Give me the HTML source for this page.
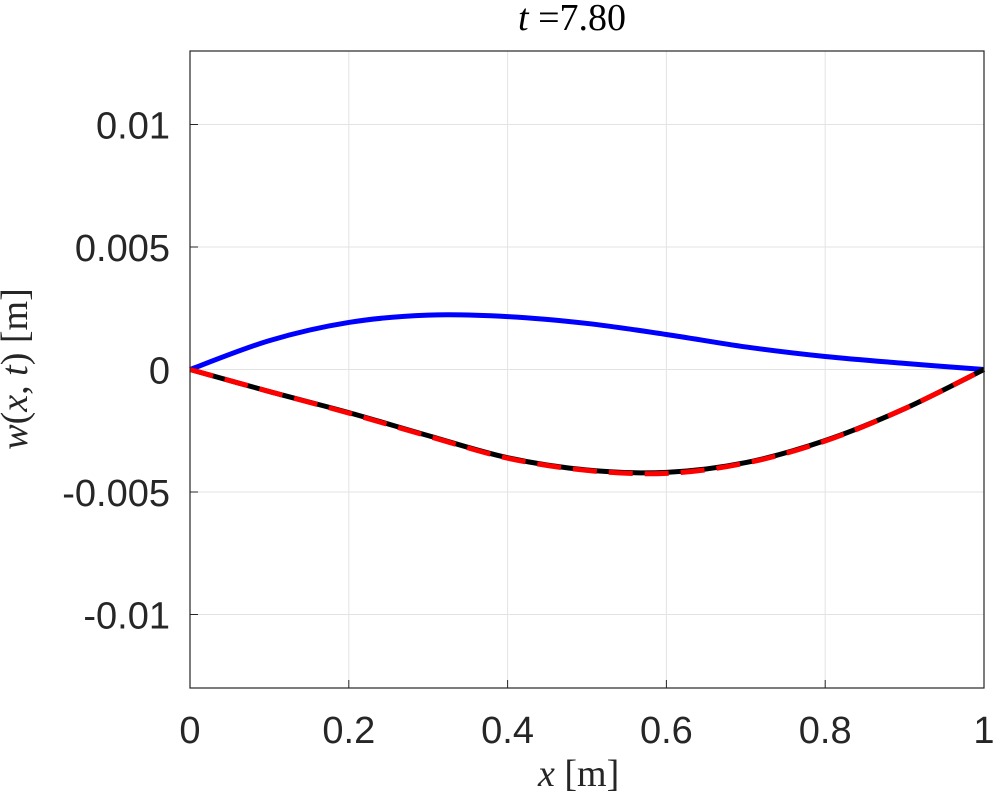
<!DOCTYPE html>
<html><head><meta charset="utf-8"><style>
body{margin:0;background:#fff}
svg{display:block}
text{font-family:"Liberation Sans",sans-serif;fill:#262626}
</style></head><body>
<svg id="c" width="997" height="804"></svg>
<script>
const xs=[0,0.1,0.2,0.3,0.4,0.5,0.6,0.7,0.8,0.9,1];
const blue=[0,0.00118,0.00192,0.00222,0.00216,0.00188,0.00143,0.00092,0.00053,0.00025,0];
const black=[0,-0.0009,-0.00176,-0.0027,-0.0036,-0.0041,-0.0042,-0.0038,-0.0029,-0.0016,0];
const red=[0,-0.0009,-0.00178,-0.00272,-0.00362,-0.00412,-0.00424,-0.00382,-0.00292,-0.0016,0];
const xticks=[0,0.2,0.4,0.6,0.8,1];
const xtickLabels=["0","0.2","0.4","0.6","0.8","1"];
const yticks=[-0.01,-0.005,0,0.005,0.01];
const ytickLabels=["-0.01","-0.005","0","0.005","0.01"];
const L=190,R=984,T=51,B=688,ymin=-0.013,ymax=0.013;
const sx=v=>L+(v)*(R-L);
const sy=v=>B-(v-ymin)/(ymax-ymin)*(B-T);
const svg=document.getElementById('c');const NS='http://www.w3.org/2000/svg';
function el(t,a,txt){const e=document.createElementNS(NS,t);for(const k in a)e.setAttribute(k,a[k]);if(txt!==undefined)e.textContent=txt;svg.appendChild(e);return e;}
let e=el('rect',{x:L,y:T,width:R-L,height:B-T,fill:'#fff'});


xticks.forEach((v,i)=>{
 let g=el('line',{x1:sx(v),x2:sx(v),y1:T,y2:B,stroke:'#e3e3e3','stroke-width':1});
 
 
 let t=el('text',{x:sx(v),y:B+55,'text-anchor':'middle','font-size':38},xtickLabels[i]);
 
 
 el('line',{x1:sx(v),x2:sx(v),y1:B,y2:B-8,stroke:'#262626','stroke-width':1});
});
yticks.forEach((v,i)=>{
 let g=el('line',{x1:L,x2:R,y1:sy(v),y2:sy(v),stroke:'#e3e3e3','stroke-width':1});
 
 
 let t=el('text',{x:L-20,y:sy(v)+14,'text-anchor':'end','font-size':38},ytickLabels[i]);
 
 
 el('line',{x1:L,x2:L+8,y1:sy(v),y2:sy(v),stroke:'#262626','stroke-width':1});
});
function path(vals){
 const p=xs.map((x,i)=>[sx(x),sy(vals[i])]);
 let d='M'+p[0][0]+','+p[0][1];
 for(let i=0;i<p.length-1;i++){
  const p0=p[Math.max(0,i-1)],p1=p[i],p2=p[i+1],p3=p[Math.min(p.length-1,i+2)];
  d+=` C${p1[0]+(p2[0]-p0[0])/6},${p1[1]+(p2[1]-p0[1])/6} ${p2[0]-(p3[0]-p1[0])/6},${p2[1]-(p3[1]-p1[1])/6} ${p2[0]},${p2[1]}`;
 }
 return d;
}
let s=el('path',{d:path(blue),fill:'none',stroke:'#0000ff','stroke-width':5});


s=el('path',{d:path(black),fill:'none',stroke:'#000','stroke-width':5});


s=el('path',{d:path(red),fill:'none',stroke:'#ff0000','stroke-width':5,'stroke-dasharray':'24,12'});


e=el('rect',{x:L,y:T,width:R-L,height:B-T,fill:'none',stroke:'#262626','stroke-width':1.2});


</script>
<div style="position:absolute;left:0;top:0;width:997px;height:804px;pointer-events:none">
<div style="position:absolute;left:518px;top:-4px;font:38px 'Liberation Serif',serif;color:#000"><i>t</i> =7.80</div>
<div style="position:absolute;left:538px;top:752px;font:38px 'Liberation Serif',serif;color:#262626"><i>x</i> [m]</div>
<div style="position:absolute;left:-90px;top:347px;width:210px;text-align:center;transform:rotate(-90deg);font:38px 'Liberation Serif',serif;color:#262626;white-space:nowrap"><i>w</i>(<i>x</i>, <i>t</i>) [m]</div>
</div>
</body></html>
